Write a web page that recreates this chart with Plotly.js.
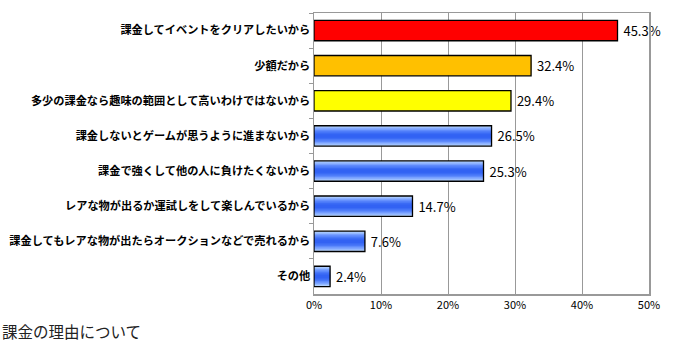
<!DOCTYPE html>
<html><head><meta charset="utf-8">
<script src="https://cdn.plot.ly/plotly-3.0.1.min.js"></script>
<style>html,body{margin:0;padding:0;background:#fff}</style>
</head><body>
<div id="chart" style="width:691px;height:345px"></div>
<script>
const categories = [
  "課金してイベントをクリアしたいから",
  "少額だから",
  "多少の課金なら趣味の範囲として高いわけではないから",
  "課金しないとゲームが思うように進まないから",
  "課金で強くして他の人に負けたくないから",
  "レアな物が出るか運試しをして楽しんでいるから",
  "課金してもレアな物が出たらオークションなどで売れるから",
  "その他"
];
const values = [45.3, 32.4, 29.4, 26.5, 25.3, 14.7, 7.6, 2.4];
const solidColors = ["#ff0000", "#ffc000", "#ffff00", null, null, null, null, null];
const xTickVals = [0, 10, 20, 30, 40, 50];
const xTickText = ["0%", "10%", "20%", "30%", "40%", "50%"];

const barWidth = 0.58;
const gradWidths = [0.58, 0.50, 0.42, 0.34, 0.26, 0.18, 0.10];
const gradColors = ["#b4d2ff", "#94b9ff", "#78a0ff", "#5f8bfc", "#4a79f8", "#3b6bf5", "#3262f3"];

const traces = [];
gradWidths.forEach((w, k) => {
  traces.push({
    type: "bar", orientation: "h",
    y: categories, x: values,
    width: w,
    marker: {
      color: values.map((v, i) => solidColors[i] || gradColors[k]),
      line: {width: 0}
    },
    hoverinfo: "skip", showlegend: false
  });
});
// outline + labels on top
traces.push({
  type: "bar", orientation: "h",
  y: categories, x: values,
  width: barWidth,
  marker: {color: "rgba(0,0,0,0)", line: {color: "#000", width: 1.3}},
  text: values.map(v => "\u00a0" + v.toFixed(1) + "%"),
  textposition: "outside",
  cliponaxis: false,
  textfont: {family: "Noto Sans CJK JP, DejaVu Sans", size: 13, color: "#000"},
  showlegend: false
});

const layout = {
  width: 691, height: 345,
  margin: {l: 314, r: 42, t: 13, b: 51},
  barmode: "overlay",
  paper_bgcolor: "#fff", plot_bgcolor: "#fff",
  font: {family: "Noto Sans CJK JP", color: "#000"},
  xaxis: {
    range: [0, 50], tickvals: xTickVals, ticktext: xTickText,
    showgrid: true, gridcolor: "#999", gridwidth: 1,
    showline: true, linecolor: "#999", linewidth: 1.5, mirror: true,
    ticks: "", zeroline: false, fixedrange: true,
    tickfont: {family: "Noto Sans CJK JP", size: 11, color: "#000"}
  },
  yaxis: {
    autorange: "reversed",
    showline: true, linecolor: "#999", linewidth: 1.5, mirror: true,
    ticks: "outside", tickson: "boundaries", ticklen: 4, tickcolor: "#999",
    showgrid: false, fixedrange: true,
    tickfont: {family: "Noto Sans CJK JP", size: 11.2, color: "#000", weight: "bold"}
  },
  title: {
    text: "課金の理由について",
    font: {family: "Noto Sans CJK JP", size: 15.5, color: "#222"},
    xref: "container", yref: "container",
    x: 0.003, xanchor: "left", y: 0.035, yanchor: "middle"
  }
};

Plotly.newPlot("chart", traces, layout, {displayModeBar: false, staticPlot: true});
</script>
</body></html>
